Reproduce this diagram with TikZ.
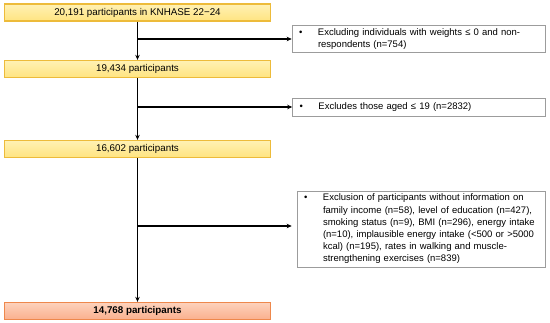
\documentclass[tikz,border=0pt]{standalone}
\usepackage{fontspec}
\setmainfont{Liberation Sans}
\usetikzlibrary{arrows.meta}
\definecolor{stagefill}{HTML}{FFE481}
\definecolor{stagetop}{HTML}{FFF1B4}
\definecolor{stageline}{HTML}{EDBB3A}
\definecolor{finalfill}{HTML}{FAB08E}
\definecolor{finaltop}{HTML}{FDD2BC}
\definecolor{finalline}{HTML}{EE884C}
\definecolor{noteline}{HTML}{9C9C9C}
\newcommand{\notelines}[1]{\begin{tabular}{@{\hspace{7pt}}p{19pt}@{}l@{}}#1\end{tabular}}
\tikzset{>={Stealth[length=5pt,width=4.5pt]},every node/.style={font=\fontsize{9.8}{12}\selectfont},
 stage/.style={draw=stageline,line width=1.3pt,top color=stagetop,bottom color=stagefill,minimum width=266pt,minimum height=17pt,inner sep=0pt},
 final/.style={stage,draw=finalline,top color=finaltop,bottom color=finalfill,font=\fontsize{9.8}{12}\selectfont\bfseries},
 note/.style={draw=noteline,line width=.6pt,fill=white,text width=253pt,inner xsep=0pt,inner ysep=1pt,align=left,font=\fontsize{9.5}{12.2}\selectfont},
 flow/.style={line width=1.1pt,->}}
\begin{document}
\begin{tikzpicture}[x=1pt,y=-1pt]
\useasboundingbox (0,0) rectangle (550,323);
\node[stage] (s1) at (137.5,12.5) {20,191 participants in KNHASE 22−24};
\node[stage] (s2) at (137.5,69) {19,434 participants};
\node[stage] (s3) at (137.5,149) {16,602 participants};
\node[final] (s4) at (137.5,311) {14,768 participants};
\node[note,minimum height=27pt] (e1) at (418.5,39) {\notelines{• & Excluding individuals with weights ≤ 0 and non-\\ & respondents (n=754)}};
\node[note,minimum height=18pt] (e2) at (419,107) {\notelines{• & Excludes those aged ≤ 19 (n=2832)}};
\node[note,text width=248pt,minimum height=76pt] (e3) at (421,229) {\notelines{• & Exclusion of participants without information on\\ & family income (n=58), level of education (n=427),\\ & smoking status (n=9), BMI (n=296), energy intake\\ & (n=10), implausible energy intake (<500 or >5000\\ & kcal) (n=195), rates in walking and muscle-\\ & strengthening exercises (n=839)}};
\draw[flow] (s1) -- (s2);\draw[flow] (s1.south |- e1.west) -- (e1);
\draw[flow] (s2) -- (s3);\draw[flow] (s2.south |- e2.west) -- (e2);
\draw[flow] (s3) -- (s4);
\coordinate (b3) at (s3.south |- 0,226);
\draw[flow,shorten >=5pt] (b3) -- (b3 -| e3.west);
\end{tikzpicture}
\end{document}
